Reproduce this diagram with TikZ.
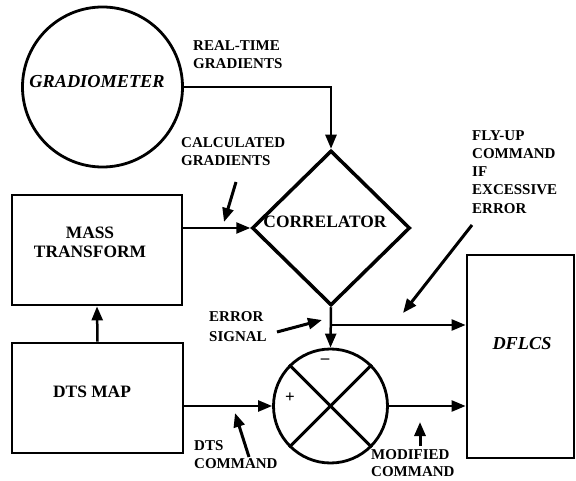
\documentclass[tikz,border=0pt]{standalone}
\usepackage{fontspec}
\setmainfont{Liberation Serif}
\usetikzlibrary{arrows.meta,shapes.geometric}
\begin{document}
\begin{tikzpicture}[x=1pt,y=-1pt,
  shapeline/.style={draw=black,line width=2.8pt,inner sep=0pt},
  boxnode/.style={shapeline,rectangle},
  conn/.style={line width=2.5pt,-{Triangle[length=14pt,width=11pt]}},
  pointer/.style={line width=3pt,-{Triangle[length=14pt,width=11pt]}},
  lbl/.style={font=\fontsize{15}{18.3}\selectfont\bfseries,align=left,anchor=north west,inner sep=0pt},
  big/.style={font=\fontsize{17.4}{19}\selectfont\bfseries,align=center,inner sep=0pt},
  bigit/.style={font=\fontsize{18.3}{20}\selectfont\bfseries\itshape,inner sep=0pt},
  sign/.style={font=\fontsize{17}{17}\selectfont\bfseries,inner sep=0pt}]
\useasboundingbox (0,0) rectangle (576,481);

% shapes
\node[shapeline,circle,minimum size=160pt,
  label={[bigit,xshift=-5.5pt,yshift=5pt]center:GRADIOMETER}] (grad) at (102.5,87) {};
\node[shapeline,diamond,line width=3.5pt,minimum width=158pt,minimum height=155pt,
  label={[big,xshift=-6pt,yshift=6pt]center:CORRELATOR}] (corr) at (331,228) {};
\node[boxnode,minimum width=170pt,minimum height=110pt,
  label={[big,xshift=-7pt,yshift=8pt]center:MASS\\TRANSFORM}] (mass) at (97,250) {};
\node[boxnode,minimum width=171pt,minimum height=110pt,
  label={[big,xshift=-5.5pt,yshift=6pt]center:DTS MAP}] (dts) at (97.5,398) {};
\node[shapeline,circle,minimum size=114pt] (sum) at (330.5,406) {};
\node[boxnode,minimum width=107pt,minimum height=203pt,
  label={[bigit,xshift=1.5pt,yshift=12.5pt]center:DFLCS}] (dflcs) at (520.5,356.5) {};

% summing junction cross and signs
\draw[line width=3pt] (sum.135) -- (sum.-45);
\draw[line width=3pt] (sum.45) -- (sum.-135);
\node[sign] (minus) at (325,361) {--};
\node[sign] (plus) at (290,398) {+};

% connectors
\draw[conn] (grad.east) -| (corr.north);
\draw[conn] (mass.east |- corr.west) -- (corr.west);
\draw[conn] (dts.north) -- (mass.south);
\draw[conn] (corr.south) -- (sum.north);
\coordinate (j) at (330.5,325);
\draw[conn] (j) -- (j -| dflcs.west);
\draw[conn] (dts.east |- sum.west) -- (sum.west);
\draw[conn] (sum.east) -- (sum.east -| dflcs.west);

% callout pointers
\coordinate (c1a) at (236,182); \coordinate (c1b) at (224,222);
\draw[pointer] (c1a) -- (c1b);
\coordinate (c2a) at (277,332); \coordinate (c2b) at (322,320);
\draw[pointer] (c2a) -- (c2b);
\coordinate (c3a) at (472,225); \coordinate (c3b) at (403,313);
\draw[pointer] (c3a) -- (c3b);
\coordinate (c4a) at (249,457); \coordinate (c4b) at (235,413);
\draw[pointer] (c4a) -- (c4b);
\coordinate (c5a) at (420,446); \coordinate (c5b) at (420,422);
\draw[pointer] (c5a) -- (c5b);

% labels
\node[lbl] (lrt) at (193,40) {REAL-TIME\\GRADIENTS};
\node[lbl] (lcg) at (181,137) {CALCULATED\\GRADIENTS};
\node[lbl] (lfly) at (472,130) {FLY-UP\\COMMAND\\IF\\EXCESSIVE\\ERROR};
\node[lbl,font=\fontsize{15}{20.5}\selectfont\bfseries] (lerr) at (209,311) {ERROR\\SIGNAL};
\node[lbl] (ldts) at (194,440) {DTS\\COMMAND};
\node[lbl,font=\fontsize{15}{17.5}\selectfont\bfseries] (lmod) at (371,449) {MODIFIED\\COMMAND};
\end{tikzpicture}
\end{document}
